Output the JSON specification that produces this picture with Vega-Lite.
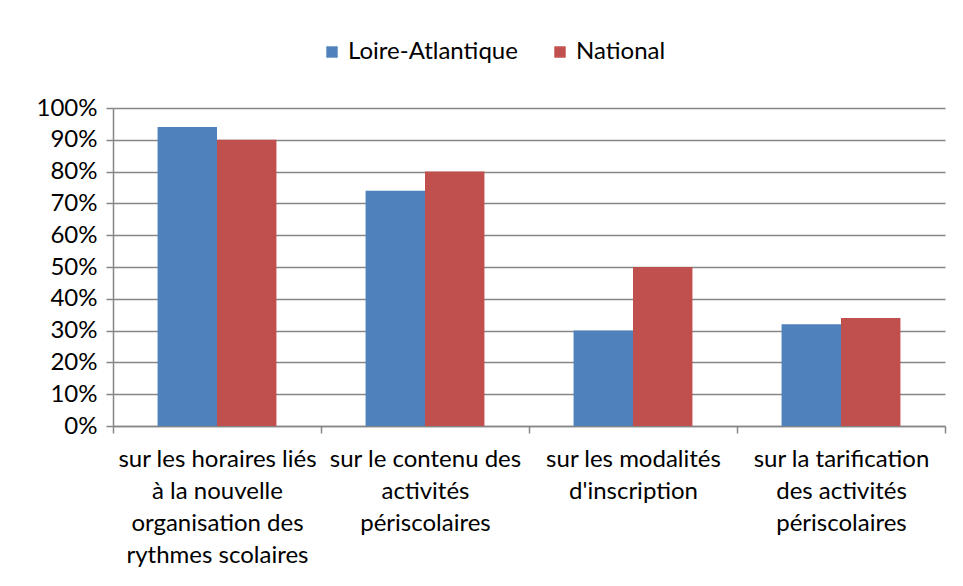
{
  "$schema": "https://vega.github.io/schema/vega-lite/v6.json",
  "width": 832,
  "height": 318,
  "autosize": {"type": "none"},
  "padding": {"left": 113, "top": 108, "right": 18, "bottom": 160},
  "background": "white",
  "config": {
    "font": "Lato",
    "view": {"stroke": null},
    "axis": {"labelFont": "Lato", "labelFontSize": 24, "labelColor": "#000000", "domainColor": "#868686", "tickColor": "#868686", "gridColor": "#868686"}
  },
  "data": {
    "values": [
      {"categorie": "sur les horaires liés\nà la nouvelle\norganisation des\nrythmes scolaires", "serie": "Loire-Atlantique", "valeur": 0.94},
      {"categorie": "sur les horaires liés\nà la nouvelle\norganisation des\nrythmes scolaires", "serie": "National", "valeur": 0.90},
      {"categorie": "sur le contenu des\nactivités\npériscolaires", "serie": "Loire-Atlantique", "valeur": 0.74},
      {"categorie": "sur le contenu des\nactivités\npériscolaires", "serie": "National", "valeur": 0.80},
      {"categorie": "sur les modalités\nd'inscription", "serie": "Loire-Atlantique", "valeur": 0.30},
      {"categorie": "sur les modalités\nd'inscription", "serie": "National", "valeur": 0.50},
      {"categorie": "sur la tarification\ndes activités\npériscolaires", "serie": "Loire-Atlantique", "valeur": 0.32},
      {"categorie": "sur la tarification\ndes activités\npériscolaires", "serie": "National", "valeur": 0.34}
    ]
  },
  "mark": {"type": "bar"},
  "encoding": {
    "x": {
      "field": "categorie",
      "type": "nominal",
      "sort": null,
      "scale": {"paddingInner": 0, "paddingOuter": 0},
      "axis": {
        "title": null,
        "labelAngle": 0,
        "labelExpr": "split(datum.label, '\\n')",
        "labelLineHeight": 32,
        "labelPadding": 14,
        "labelBaseline": "top",
        "tickBand": "extent",
        "tickSize": 7,
        "tickWidth": 1.5,
        "domainWidth": 1.5,
        "labelLimit": 0
      }
    },
    "xOffset": {
      "field": "serie",
      "type": "nominal",
      "scale": {"paddingInner": 0, "paddingOuter": 0.75}
    },
    "y": {
      "field": "valeur",
      "type": "quantitative",
      "scale": {"domain": [0, 1]},
      "axis": {
        "title": null,
        "format": ".0%",
        "values": [0, 0.1, 0.2, 0.3, 0.4, 0.5, 0.6, 0.7, 0.8, 0.9, 1],
        "labelOverlap": false,
        "gridWidth": 1.5,
        "tickSize": 7,
        "tickWidth": 1.5,
        "domainWidth": 1.5,
        "labelPadding": 9
      }
    },
    "color": {
      "field": "serie",
      "type": "nominal",
      "scale": {"domain": ["Loire-Atlantique", "National"], "range": ["#4F81BD", "#C0504D"]},
      "legend": {
        "title": null,
        "orient": "none",
        "direction": "horizontal",
        "legendX": 207,
        "legendY": -68,
        "symbolType": "square",
        "symbolSize": 130,
        "symbolStrokeWidth": 0,
        "labelFontSize": 24,
        "labelFont": "Lato",
        "labelColor": "#000000",
        "labelLimit": 0,
        "columnPadding": 30,
        "labelOffset": 4
      }
    }
  }
}
